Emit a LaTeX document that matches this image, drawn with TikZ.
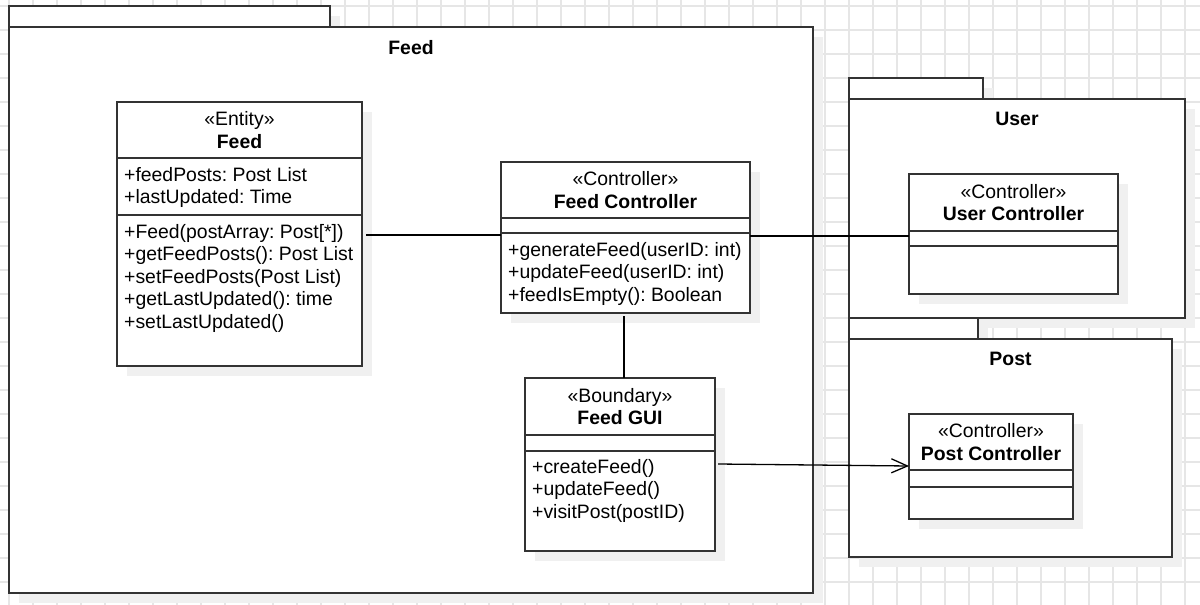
\documentclass[tikz,border=0pt]{standalone}
\usepackage{fontspec}
\setmainfont{Liberation Sans}
\usetikzlibrary{arrows.meta,shadows}
\definecolor{gridgray}{HTML}{E6E6E6}
\definecolor{boxline}{HTML}{333333}
\definecolor{shade}{HTML}{F0F0F0}
\frenchspacing
\begin{document}
\begin{tikzpicture}[x=1pt,y=-1pt,
  font=\fontsize{19.4}{22.5}\selectfont,
  gridline/.style={draw=gridgray,line width=1.6pt},
  box/.style={draw=boxline,line width=2pt,fill=white,anchor=north west,inner sep=0pt,outer sep=0pt,
    drop shadow={shadow xshift=10pt,shadow yshift=-10pt,fill=shade,opacity=1}},
  pkgname/.style={anchor=north,inner sep=0pt,font=\fontsize{19.4}{22.5}\selectfont\bfseries},
  members/.style={anchor=north west,inner sep=0pt,align=left},
  assoc/.style={draw=black,line width=1.3pt}]
\useasboundingbox (0,0) rectangle (1200,605);
% grid
\foreach \gx in {9,33,...,1200} \draw[gridline] (\gx,0) -- (\gx,605);
\foreach \gy in {6,30,...,605} \draw[gridline] (0,\gy) -- (1200,\gy);
% packages
\node[box,minimum width=321pt,minimum height=21pt] (feedtab) at (9,6) {};
\node[box,minimum width=804pt,minimum height=566pt] (feedpkg) at (9,27) {};
\node[pkgname] (feedname) at ([yshift=-13pt]feedpkg.north) {Feed};
\node[box,minimum width=134pt,minimum height=21pt] (usertab) at (849,78) {};
\node[box,minimum width=336pt,minimum height=219pt] (userpkg) at (849,99) {};
\node[pkgname] (username) at ([yshift=-13pt]userpkg.north) {User};
\node[box,minimum width=129pt,minimum height=21pt] (posttab) at (849,318) {};
\node[box,minimum width=323pt,minimum height=218pt] (postpkg) at (849,339) {};
\node[pkgname] (postname) at ([yshift=-13pt]postpkg.north) {Post};
% Feed entity
\node[box,align=center,minimum width=245pt,minimum height=56pt] (feedhead) at (117,102) {«Entity»\\\textbf{Feed}};
\node[box,minimum width=245pt,minimum height=57pt] (feedattr) at (feedhead.south west) {};
\node[box,minimum width=245pt,minimum height=151pt] (feedops) at (feedattr.south west) {};
\node[members] (feedattrtxt) at ([xshift=7pt,yshift=-9pt]feedattr.north west) {+feedPosts: Post List\\+lastUpdated: Time};
\node[members] (feedopstxt) at ([xshift=7pt,yshift=-9pt]feedops.north west) {+Feed(postArray: Post[*])\\+getFeedPosts(): Post List\\+setFeedPosts(Post List)\\+getLastUpdated(): time\\+setLastUpdated()};
% Feed Controller
\node[box,align=center,minimum width=249pt,minimum height=56pt] (fchead) at (501,162) {«Controller»\\\textbf{Feed Controller}};
\node[box,minimum width=249pt,minimum height=15pt] (fcattr) at (fchead.south west) {};
\node[box,minimum width=249pt,minimum height=80pt] (fcops) at (fcattr.south west) {};
\node[members] (fcopstxt) at ([xshift=7pt,yshift=-9pt]fcops.north west) {+generateFeed(userID: int)\\+updateFeed(userID: int)\\+feedIsEmpty(): Boolean};
% Feed GUI
\node[box,align=center,minimum width=190pt,minimum height=57pt] (guihead) at (525,378) {«Boundary»\\\textbf{Feed GUI}};
\node[box,minimum width=190pt,minimum height=16pt] (guiattr) at (guihead.south west) {};
\node[box,minimum width=190pt,minimum height=100pt] (guiops) at (guiattr.south west) {};
\node[members] (guiopstxt) at ([xshift=7pt,yshift=-8pt]guiops.north west) {+createFeed()\\+updateFeed()\\+visitPost(postID)};
% User Controller
\node[box,align=center,minimum width=209pt,minimum height=57pt] (uchead) at (909,174) {«Controller»\\\textbf{User Controller}};
\node[box,minimum width=209pt,minimum height=15pt] (ucattr) at (uchead.south west) {};
\node[box,minimum width=209pt,minimum height=48pt] (ucops) at (ucattr.south west) {};
% Post Controller
\node[box,align=center,minimum width=164pt,minimum height=56pt] (pchead) at (909,414) {«Controller»\\\textbf{Post Controller}};
\node[box,minimum width=164pt,minimum height=17pt] (pcattr) at (pchead.south west) {};
\node[box,minimum width=164pt,minimum height=32pt] (pcops) at (pcattr.south west) {};
% connectors
\coordinate (fcleft) at ([yshift=-2pt]fcops.north west);
\coordinate (fcright) at ([yshift=-3pt]fcops.north east);
\coordinate (fcbottom) at ([xshift=-1.5pt]fcops.south);
\coordinate (guiright) at ([xshift=3pt,yshift=-13pt]guiops.north east);
\coordinate (pcleft) at ([yshift=4pt]pchead.south west);
\draw[assoc,shorten >=4pt] (fcleft) -- (fcleft -| feedops.east);
\draw[assoc] (fcright) -- (fcright -| ucattr.west);
\draw[assoc,shorten <=3pt] (fcbottom) -- (fcbottom |- guihead.north);
\draw[assoc,-{Straight Barb[length=16pt,width=14pt]}] (guiright) -- (pcleft);
\end{tikzpicture}
\end{document}
